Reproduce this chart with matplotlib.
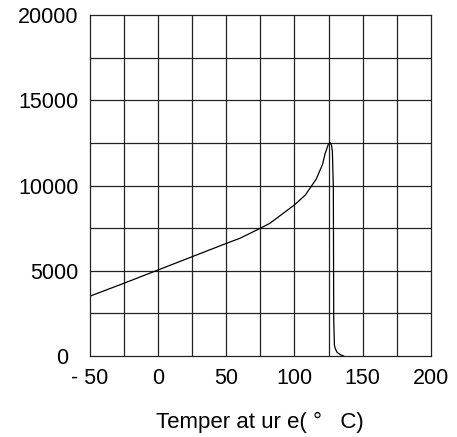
import matplotlib
matplotlib.use("Agg")
import matplotlib.pyplot as plt
import matplotlib.transforms as mtransforms

# Resistance vs temperature curve
temperature = [-50, -25, 0, 25, 50, 60, 75, 82, 100, 108, 116, 120.7, 122.4, 124.9,
               126.1, 127.2, 127.8, 128.5, 128.8, 129.3, 130.0, 131.2, 133.5, 136.0]
resistance = [3500, 4260, 5040, 5820, 6600, 6900, 7490, 7780, 8860, 9440, 10380, 11260,
              11850, 12430, 12530, 12350, 12000, 9930, 2110, 620, 420, 220, 80, 0]

x_ticks = [-50, 0, 50, 100, 150, 200]
x_tick_labels = ["- 50", "0", "50", "100", "150", "200"]
y_ticks = [0, 5000, 10000, 15000, 20000]
y_tick_labels = ["0", "5000", "10000", "15000", "20000"]

plt.rcParams["font.family"] = ["Liberation Sans", "DejaVu Sans"]

fig = plt.figure(figsize=(4.57, 4.37), dpi=100)
ax = fig.add_axes([89.5 / 457, 1 - 356 / 437, (431 - 89.5) / 457, (356 - 15) / 437])

ax.plot(temperature, resistance, color="black", lw=0.9)

ax.set_xlim(-50, 200)
ax.set_ylim(0, 20000)

# grid every 25 degrees and every 2500 units
for gx in range(-25, 200, 25):
    ax.axvline(gx, color="#222222", lw=0.9, zorder=0)
for gy in range(2500, 20000, 2500):
    ax.axhline(gy, color="#222222", lw=0.9, zorder=0)

ax.set_xticks(x_ticks)
ax.set_xticklabels(x_tick_labels, fontsize=15.5)
ax.set_yticks(y_ticks)
ax.set_yticklabels(y_tick_labels, fontsize=15.5)
ax.tick_params(length=0)
ax.tick_params(axis="x", pad=9)
ax.tick_params(axis="y", pad=8)

# the zero label sits a little further left than the others
zero_lbl = ax.get_yticklabels()[0]
zero_lbl.set_transform(zero_lbl.get_transform() +
                       mtransforms.ScaledTranslation(-10 / 100, 0, fig.dpi_scale_trans))

for s in ax.spines.values():
    s.set_color("#222222")
    s.set_linewidth(0.9)

ax.set_xlabel("Temper at ur e( °   C)", fontsize=16, labelpad=16)

fig.savefig("out.png", dpi=100)
